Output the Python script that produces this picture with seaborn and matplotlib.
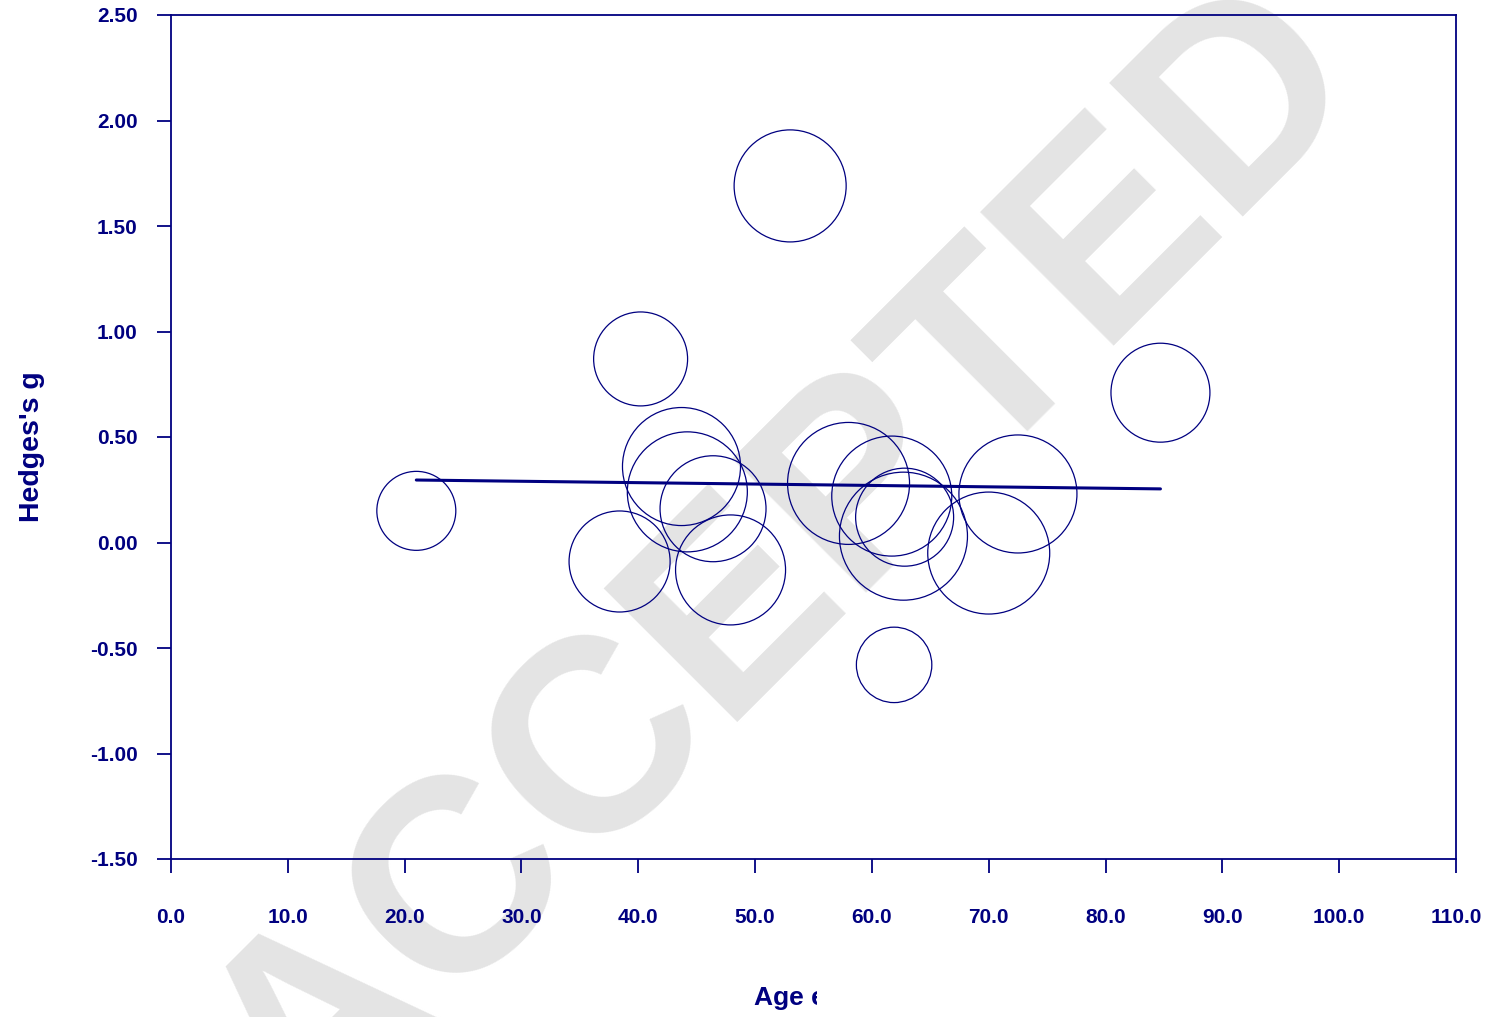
import matplotlib
matplotlib.use("Agg")
import matplotlib.pyplot as plt
from matplotlib.transforms import Bbox, TransformedBbox
import numpy as np
import pandas as pd
import seaborn as sns

# Données de la méta-régression
age = [21.0, 53.0, 40.2, 43.7, 44.2, 46.4, 38.4, 47.9,
       58.0, 61.7, 62.8, 62.7, 72.5, 70.0, 84.7, 61.9]
hedges_g = [0.15, 1.69, 0.87, 0.36, 0.24, 0.16, -0.09, -0.13,
            0.28, 0.22, 0.12, 0.03, 0.23, -0.05, 0.71, -0.58]
weight = [3.30, 6.64, 4.67, 7.37, 7.62, 5.94, 5.40, 6.40,
          7.87, 7.62, 5.08, 8.67, 7.37, 7.87, 5.18, 3.01]

# Droite de régression
intercept = 0.310
slope = -0.00066

x_ticks = [0, 10, 20, 30, 40, 50, 60, 70, 80, 90, 100, 110]
y_ticks = [-1.5, -1.0, -0.5, 0.0, 0.5, 1.0, 1.5, 2.0, 2.5]

navy = "#000080"
df = pd.DataFrame({"age": age, "g": hedges_g, "w": weight})

sns.set_style("white")
plt.rcParams["font.family"] = ["Liberation Sans", "DejaVu Sans"]

fig = plt.figure(figsize=(14.88, 10.17), dpi=100)
ax = fig.add_axes([171 / 1488, 158 / 1017, 1285 / 1488, 844 / 1017])
ax.set_facecolor("none")

# Filigrane
fig.text(0.528, 0.443, "ACCEPTED", fontsize=197, fontweight="bold", color="#e4e4e4",
         rotation=45, ha="center", va="center", zorder=-5)

# Bulles (taille proportionnelle au poids)
scale = 980
sns.scatterplot(data=df, x="age", y="g", size="w",
                sizes=(min(weight) * scale, max(weight) * scale),
                size_norm=(min(weight), max(weight)),
                facecolor="none", edgecolor=navy, linewidth=0.9,
                legend=False, ax=ax, zorder=3)

# Ligne de régression
xr = np.array([min(age), max(age)])
ax.plot(xr, intercept + slope * xr, color=navy, linewidth=2.2, zorder=4)

# Axes
ax.set_xlim(0, 110)
ax.set_ylim(-1.5, 2.5)
ax.set_xticks(x_ticks)
ax.set_yticks(y_ticks)
ax.set_xticklabels([f"{v:.1f}" for v in x_ticks])
ax.set_yticklabels([f"{v:.2f}" for v in y_ticks])
for s in ax.spines.values():
    s.set_color(navy)
    s.set_linewidth(1.3)
ax.tick_params(axis="x", direction="out", length=10, width=1.3, color=navy,
               labelcolor=navy, labelsize=15, pad=25, bottom=True)
ax.tick_params(axis="y", direction="out", length=10, width=1.3, color=navy,
               labelcolor=navy, labelsize=15, pad=14, left=True)
for lab in ax.get_xticklabels() + ax.get_yticklabels():
    lab.set_fontweight("bold")

ax.set_ylabel("Hedges's g", fontsize=20.5, fontweight="bold", color=navy)
ax.yaxis.set_label_coords(-0.098, 0.489)
ax.set_xlabel("Age e", fontsize=19, fontweight="bold", color=navy)
ax.xaxis.set_label_coords((754 - 171) / 1285, -0.151)
ax.xaxis.label.set_ha("left")
clip = TransformedBbox(Bbox([[0, 0], [817 / 1488, 1]]), fig.transFigure)
ax.xaxis.label.set_clip_box(clip)
ax.xaxis.label.set_clip_on(True)

fig.savefig("out.png", dpi=100)
